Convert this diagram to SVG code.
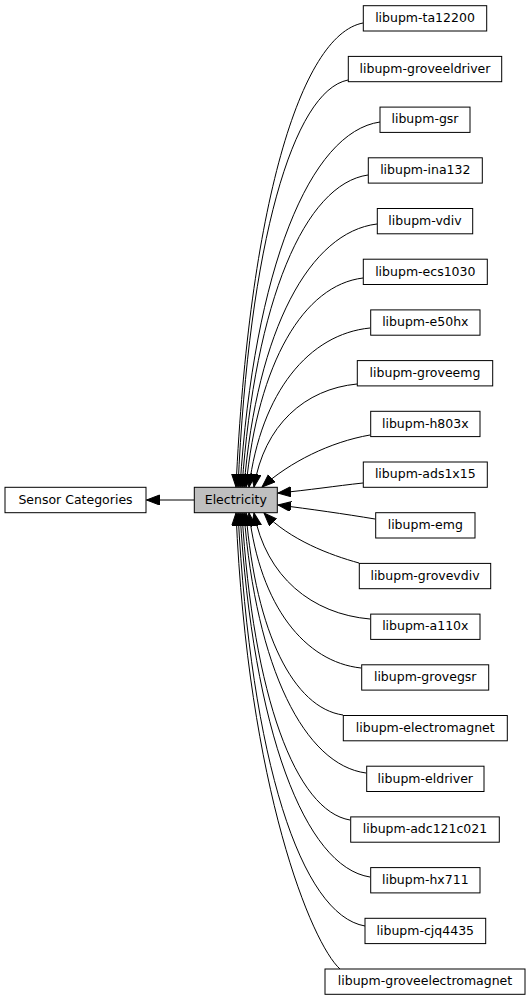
<svg xmlns="http://www.w3.org/2000/svg" width="531" height="1000" viewBox="0 0 531 1000">
<style>
.n rect{fill:#ffffff;stroke:#000000;stroke-width:1}
.n text{font-family:"DejaVu Sans","Liberation Sans",sans-serif;font-size:12.5px;fill:#000000;text-anchor:middle}
#n_electricity rect{fill:#bfbfbf}
.e path{fill:none;stroke:#000000;stroke-width:1;marker-end:url(#ah)}
</style>
<defs>
<marker id="ah" markerUnits="userSpaceOnUse" markerWidth="14" markerHeight="11" refX="13" refY="5" orient="auto">
<path d="M0,0 L13,5 L0,10 z" fill="#000000" stroke="#000000" stroke-width="1"/>
</marker>
</defs>
<rect width="531" height="1000" fill="#ffffff"/>
<g id="edges" class="e">
<path d="M194,500 L146.5,500"/>
<path d="M363,23 C300,35 249,209 236,487"/>
<path d="M348,80 C293,91 249,243 238,487"/>
<path d="M380,122 C310,132 254,268 240,487"/>
<path d="M368,175 C305,184 255,300 242,487"/>
<path d="M377,224 C310,232 257,329 244,487"/>
<path d="M363,278 C304,285 258,362 246,487"/>
<path d="M370,328 C309,334 261,392 249,487"/>
<path d="M357,384 C305,389 264,425 254,487"/>
<path d="M370,435 C330,442 290,462 262,487"/>
<path d="M363,483 C335,486 310,490 278,493"/>
<path d="M375,519 C345,514 310,509 278,505"/>
<path d="M359,563 C330,555 290,540 264,513"/>
<path d="M370,619 C312,614 266,577 254,513"/>
<path d="M361,668 C305,662 260,606 249,513"/>
<path d="M343,715 C294,708 256,634 246,513"/>
<path d="M366,773 C305,765 256,669 244,513"/>
<path d="M350,820 C296,811 253,697 242,513"/>
<path d="M370,877 C305,867 253,731 240,513"/>
<path d="M365,926 C301,915 251,761 238,513"/>
<path d="M340,969 C312,944 248,790 236,513"/>
</g>
<g id="n_sensor" class="n"><rect x="5" y="487.3" width="141" height="25.4"/><text x="75.5" y="503.6">Sensor Categories</text></g>
<g id="n_electricity" class="n"><rect x="194.3" y="487.3" width="83" height="25.4"/><text x="235.8" y="503.6">Electricity</text></g>
<g id="n_ta12200" class="n"><rect x="363.3" y="5.7" width="123.4" height="25.3"/><text x="425" y="22">libupm-ta12200</text></g>
<g id="n_groveeldriver" class="n"><rect x="348.3" y="56.4" width="153.4" height="25.3"/><text x="425" y="72.7">libupm-groveeldriver</text></g>
<g id="n_gsr" class="n"><rect x="380" y="107.1" width="90" height="25.3"/><text x="425" y="123.4">libupm-gsr</text></g>
<g id="n_ina132" class="n"><rect x="368.3" y="157.8" width="114" height="25.3"/><text x="425.3" y="174.1">libupm-ina132</text></g>
<g id="n_vdiv" class="n"><rect x="377.3" y="208.5" width="95.4" height="25.3"/><text x="425" y="224.8">libupm-vdiv</text></g>
<g id="n_ecs1030" class="n"><rect x="363.3" y="259.2" width="124" height="25.3"/><text x="425.3" y="275.5">libupm-ecs1030</text></g>
<g id="n_e50hx" class="n"><rect x="370.7" y="309.9" width="109.3" height="25.3"/><text x="425.3" y="326.2">libupm-e50hx</text></g>
<g id="n_groveemg" class="n"><rect x="357.3" y="360.6" width="135.4" height="25.3"/><text x="425" y="376.9">libupm-groveemg</text></g>
<g id="n_h803x" class="n"><rect x="370.7" y="411.3" width="109.3" height="25.3"/><text x="425.3" y="427.6">libupm-h803x</text></g>
<g id="n_ads1x15" class="n"><rect x="363.3" y="462" width="124" height="25.3"/><text x="425.3" y="478.3">libupm-ads1x15</text></g>
<g id="n_emg" class="n"><rect x="375.7" y="512.7" width="99.3" height="25.3"/><text x="425.3" y="529">libupm-emg</text></g>
<g id="n_grovevdiv" class="n"><rect x="359.3" y="563.4" width="131.4" height="25.3"/><text x="425" y="579.7">libupm-grovevdiv</text></g>
<g id="n_a110x" class="n"><rect x="370.7" y="614.1" width="109.3" height="25.3"/><text x="425.3" y="630.4">libupm-a110x</text></g>
<g id="n_grovegsr" class="n"><rect x="361.7" y="664.8" width="127" height="25.3"/><text x="425.2" y="681.1">libupm-grovegsr</text></g>
<g id="n_electromagnet" class="n"><rect x="343.3" y="715.5" width="164" height="25.3"/><text x="425.3" y="731.8">libupm-electromagnet</text></g>
<g id="n_eldriver" class="n"><rect x="366.7" y="766.2" width="117.3" height="25.3"/><text x="425.3" y="782.5">libupm-eldriver</text></g>
<g id="n_adc121c021" class="n"><rect x="350.7" y="816.9" width="148.6" height="25.3"/><text x="425" y="833.2">libupm-adc121c021</text></g>
<g id="n_hx711" class="n"><rect x="370.7" y="867.6" width="109.3" height="25.3"/><text x="425.3" y="883.9">libupm-hx711</text></g>
<g id="n_cjq4435" class="n"><rect x="365" y="918.3" width="120.7" height="25.3"/><text x="425.3" y="934.6">libupm-cjq4435</text></g>
<g id="n_groveelectromagnet" class="n"><rect x="325" y="969" width="200" height="25.3"/><text x="425" y="985.3">libupm-groveelectromagnet</text></g>
</svg>
